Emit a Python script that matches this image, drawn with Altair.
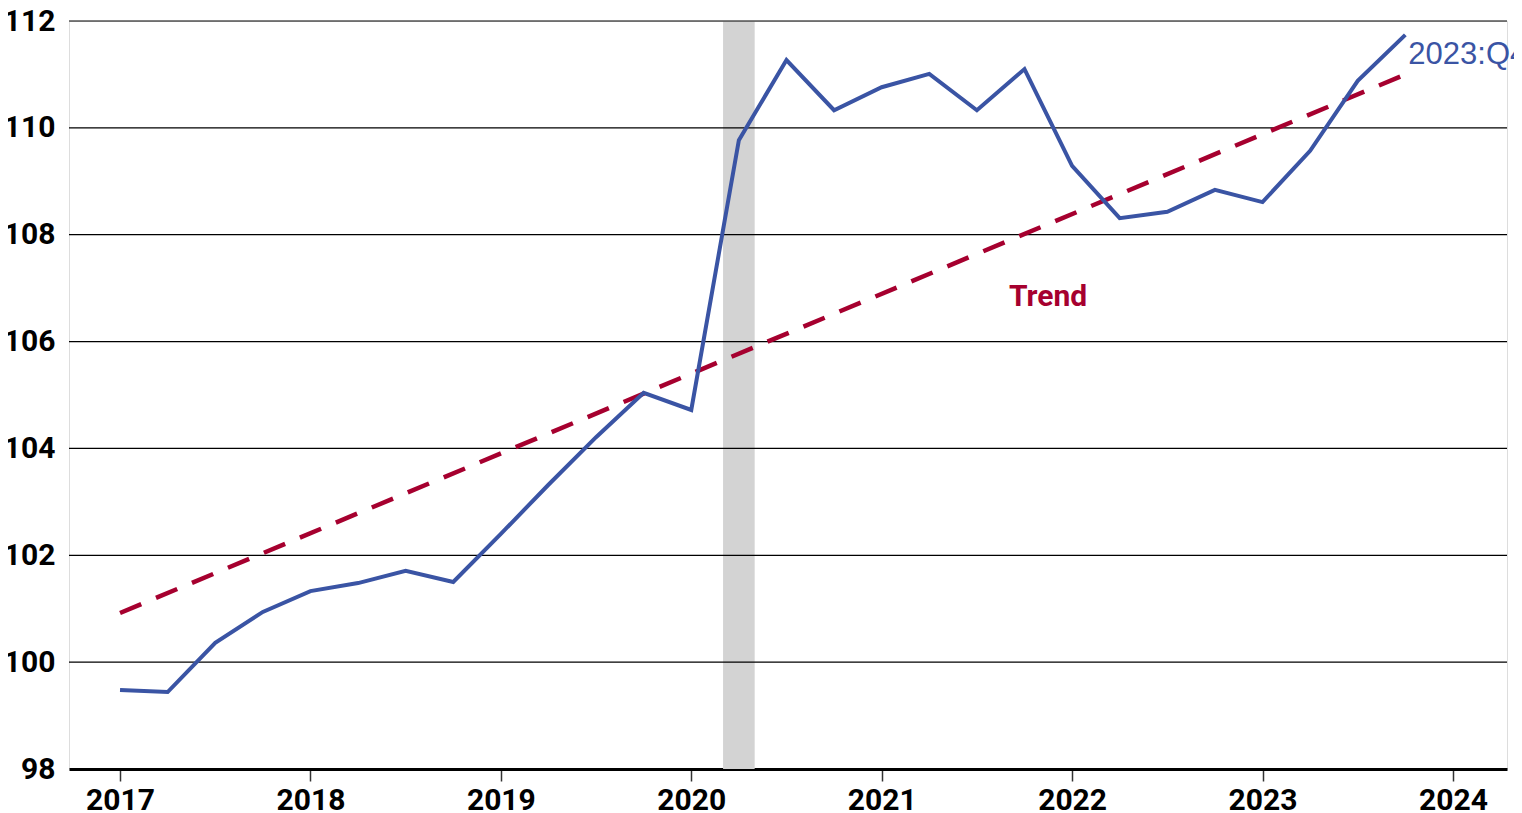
import altair as alt
import pandas as pd

# ---- data ----
periods = ["2017:Q1", "2017:Q2", "2017:Q3", "2017:Q4",
           "2018:Q1", "2018:Q2", "2018:Q3", "2018:Q4",
           "2019:Q1", "2019:Q2", "2019:Q3", "2019:Q4",
           "2020:Q1", "2020:Q2", "2020:Q3", "2020:Q4",
           "2021:Q1", "2021:Q2", "2021:Q3", "2021:Q4",
           "2022:Q1", "2022:Q2", "2022:Q3", "2022:Q4",
           "2023:Q1", "2023:Q2", "2023:Q3", "2023:Q4"]
values = [99.48, 99.44, 100.36, 100.94,
          101.33, 101.48, 101.71, 101.50,
          102.40, 103.32, 104.21, 105.04,
          104.72, 109.77, 111.27, 110.33,
          110.76, 111.01, 110.33, 111.10,
          109.29, 108.31, 108.43, 108.84,
          108.61, 109.57, 110.88, 111.74]

trend_x = [2017.0, 2023.75]
trend_y = [100.92, 111.0]

recession_start = [2020.167]
recession_end = [2020.333]

year_ticks = [2017, 2018, 2019, 2020, 2021, 2022, 2023, 2024]
y_ticks = [98, 100, 102, 104, 106, 108, 110, 112]
x_domain = [2016.732, 2024.284]
y_domain = [98, 112]

trend_label = ["Trend"]
trend_label_x = [2021.874]
trend_label_y = [106.83]

BLUE = "#3A54A4"
RED = "#A6002F"

# ---- tables ----
def to_decimal(p):
    yr, q = p.split(":Q")
    return int(yr) + (int(q) - 1) / 4

line_df = pd.DataFrame({"x": [to_decimal(p) for p in periods], "v": values, "period": periods})
trend_df = pd.DataFrame({"x": trend_x, "v": trend_y})
band_df = pd.DataFrame({"start": recession_start, "end": recession_end})
grid_df = pd.DataFrame({"v": y_ticks[1:]})
label_df = pd.DataFrame({"x": trend_label_x, "v": trend_label_y, "t": trend_label})
end_df = line_df.tail(1)

W, H = 1438, 748

xs = alt.Scale(domain=x_domain, nice=False, zero=False)
ys = alt.Scale(domain=y_domain, nice=False, zero=False)

xaxis = alt.Axis(values=year_ticks, format="d", title=None, grid=False,
                 labelFont="Roboto", labelFontSize=30, labelFontWeight="bold",
                 labelColor="black", labelPadding=4, labelFlush=False, labelOverlap=False,
                 tickSize=12, tickColor="#333333", tickWidth=1.5,
                 domainColor="black", domainWidth=3)
yaxis = alt.Axis(values=y_ticks, title=None, grid=False, domain=False, ticks=False,
                 labelFont="Roboto", labelFontSize=30, labelFontWeight="bold",
                 labelColor="black", labelPadding=14, labelBaseline="middle")

band = alt.Chart(band_df).mark_rect(color="#D3D3D3").encode(
    x=alt.X("start:Q", scale=xs, axis=xaxis),
    x2="end:Q",
    y=alt.Y(datum=112, scale=ys, axis=yaxis),
    y2=alt.Y2(datum=98),
)

grid = alt.Chart(grid_df).mark_rule(color="black", strokeWidth=1.2).encode(
    y=alt.Y("v:Q", scale=ys, axis=yaxis),
)

trend = alt.Chart(trend_df).mark_line(color=RED, strokeWidth=4.5, strokeDash=[23, 16], strokeCap="butt").encode(
    x=alt.X("x:Q", scale=xs, axis=xaxis),
    y=alt.Y("v:Q", scale=ys, axis=yaxis),
)

line = alt.Chart(line_df).mark_line(color=BLUE, strokeWidth=4, strokeJoin="miter").encode(
    x=alt.X("x:Q", scale=xs, axis=xaxis),
    y=alt.Y("v:Q", scale=ys, axis=yaxis),
)

tlabel = alt.Chart(label_df).mark_text(color=RED, font="Roboto", fontSize=30, fontWeight="bold",
                                       align="center", baseline="middle").encode(
    x=alt.X("x:Q", scale=xs, axis=xaxis),
    y=alt.Y("v:Q", scale=ys, axis=yaxis),
    text="t:N",
)

elabel = alt.Chart(end_df).mark_text(color=BLUE, font="Liberation Sans", fontSize=31,
                                     align="left", baseline="alphabetic", dx=3, dy=29).encode(
    x=alt.X("x:Q", scale=xs, axis=xaxis),
    y=alt.Y("v:Q", scale=ys, axis=yaxis),
    text="period:N",
)

chart = alt.layer(band, grid, trend, line, tlabel, elabel).properties(
    width=W, height=H,
    autosize=alt.AutoSizeParams(type="none"),
    padding={"left": 61, "top": 13, "right": 7, "bottom": 44},
).configure_view(stroke=None).configure(background="white")

chart.save("out.html", embed_options={"renderer": "svg", "actions": False})
